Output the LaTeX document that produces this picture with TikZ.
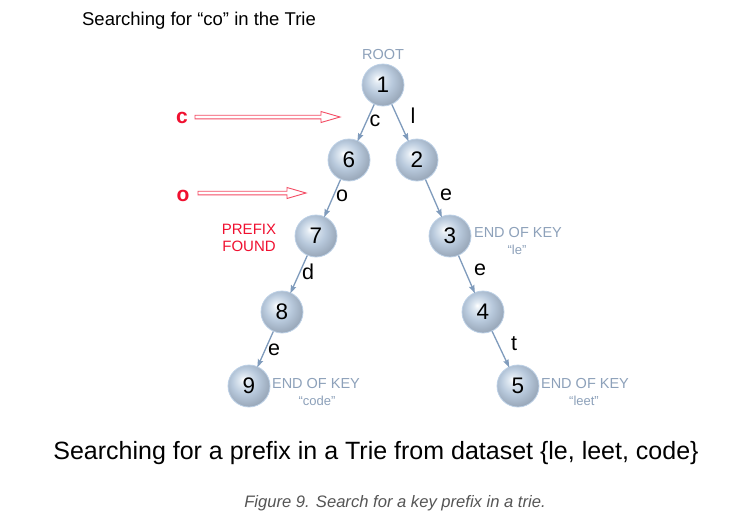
\documentclass[tikz,border=0pt]{standalone}
\usepackage{fontspec}
\setmainfont{Liberation Sans}
\usetikzlibrary{arrows.meta,calc}
\definecolor{ballA}{HTML}{E0E9F2}
\definecolor{ballB}{HTML}{B8C9DC}
\definecolor{ballC}{HTML}{8F9DAE}
\definecolor{rimc}{HTML}{BCD0E6}
\definecolor{edgec}{HTML}{7F9BBC}
\definecolor{keyc}{HTML}{8DA1BA}
\definecolor{redc}{HTML}{F01030}
\definecolor{capc}{HTML}{555555}
\pgfdeclareradialshading{trieball}{\pgfqpoint{-7bp}{8bp}}{%
  color(0bp)=(white); color(5bp)=(ballA); color(16bp)=(ballB);
  color(32bp)=(ballC); color(50bp)=(ballC)}
\tikzset{
  x=1pt, y=-1pt,
  trienode/.style={circle, minimum size=42pt, inner sep=0pt, shading=trieball,
    draw=rimc, line width=0.8pt, font=\fontsize{22.5}{22.5}\selectfont, text=black},
  edge/.style={draw=edgec, line width=1.3pt, -{Stealth[length=8pt,width=5.5pt,inset=1pt]},
    shorten >=-1pt},
  elabel/.style={font=\fontsize{21.5}{21.5}\selectfont, text=black, inner sep=0pt},
  keylabel/.style={font=\fontsize{14.5}{14.5}\selectfont, text=keyc, inner sep=0pt},
  keysub/.style={font=\fontsize{13}{13}\selectfont, text=keyc, inner sep=0pt},
  redarrow/.style={draw=redc!75, fill=white, line width=0.9pt, line join=miter},
  redletter/.style={font=\fontsize{21}{21}\selectfont\bfseries, text=redc, inner sep=0pt},
}
\begin{document}
\begin{tikzpicture}
\useasboundingbox (0,0) rectangle (739,531);
\fill[white] (0,0) rectangle (739,531);

\node[font=\fontsize{18.5}{18.5}\selectfont] (title) at (199,21) {Searching for ``co'' in the Trie};

\node[trienode] (n1) at (383,85) {1};
\node[trienode] (n6) at (349,160) {6};
\node[trienode] (n2) at (417,160) {2};
\node[trienode] (n7) at (316,236) {7};
\node[trienode] (n3) at (450,236) {3};
\node[trienode] (n8) at (282,312) {8};
\node[trienode] (n4) at (483,312) {4};
\node[trienode] (n9) at (249,386) {9};
\node[trienode] (n5) at (518,386) {5};

\node[keylabel] (root) at (383,55) {ROOT};

\draw[edge] (n1) -- (n6);
\draw[edge] (n1) -- (n2);
\draw[edge] (n6) -- (n7);
\draw[edge] (n2) -- (n3);
\draw[edge] (n7) -- (n8);
\draw[edge] (n3) -- (n4);
\draw[edge] (n8) -- (n9);
\draw[edge] (n4) -- (n5);

\node[elabel] (lc) at (375,121) {c};
\node[elabel] (ll) at (413,116) {l};
\node[elabel] (lo) at (342,196) {o};
\node[elabel] (le1) at (446,195) {e};
\node[elabel] (ld) at (308,272) {d};
\node[elabel] (le2) at (480,270) {e};
\node[elabel] (le3) at (274,350) {e};
\node[elabel] (lt) at (514,344) {t};

\node[keylabel] (k3) at (518,233) {END OF KEY};
\node[keysub] (k3s) at (517,250) {``le''};
\node[keylabel] (k9) at (316,384) {END OF KEY};
\node[keysub] (k9s) at (317,401) {``code''};
\node[keylabel] (k5) at (585,384) {END OF KEY};
\node[keysub] (k5s) at (584,401) {``leet''};

% red search arrows
\node[redletter] (rc) at (182,118) {c};
\coordinate (ca) at (195,117);
\coordinate (cb) at (340,117);
\draw[redarrow] ($(ca)+(0,-1.8)$) -- ($(cb)+(-19,-1.8)$) -- ($(cb)+(-19,-5.5)$) -- (cb)
  -- ($(cb)+(-19,5.5)$) -- ($(cb)+(-19,1.8)$) -- ($(ca)+(0,1.8)$) -- cycle;

\node[redletter] (ro) at (183,196) {o};
\coordinate (oa) at (198,193);
\coordinate (ob) at (306,193);
\draw[redarrow] ($(oa)+(0,-1.8)$) -- ($(ob)+(-19,-1.8)$) -- ($(ob)+(-19,-5.5)$) -- (ob)
  -- ($(ob)+(-19,5.5)$) -- ($(ob)+(-19,1.8)$) -- ($(oa)+(0,1.8)$) -- cycle;

\node[font=\fontsize{15}{17.5}\selectfont, text=redc, align=center, inner sep=0pt] (pf) at (249,238) {PREFIX\\FOUND};

\node[font=\fontsize{25}{25}\selectfont] (sub) at (376,453) {Searching for a prefix in a Trie from dataset \{le, leet, code\}};
\node[font=\fontsize{16.6}{16.6}\selectfont\itshape, text=capc] (cap) at (395,503) {Figure 9. Search for a key prefix in a trie.};
\end{tikzpicture}
\end{document}
